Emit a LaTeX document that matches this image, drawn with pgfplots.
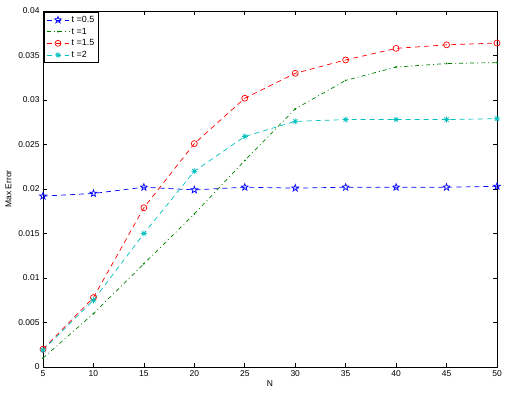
\documentclass[border=0pt]{standalone}
\usepackage{fontspec}
\setmainfont{Liberation Sans}
\usepackage{pgfplots}
\pgfplotsset{compat=1.18}
\usetikzlibrary{plotmarks}
\definecolor{mgreen}{rgb}{0,0.5,0}
\definecolor{mcyan}{rgb}{0,0.75,0.75}
\pgfdeclareplotmark{pentagram}{%
  \pgfpathmoveto{\pgfqpointpolar{90}{\pgfplotmarksize}}%
  \pgfpathlineto{\pgfqpointpolar{126}{0.4\pgfplotmarksize}}%
  \pgfpathlineto{\pgfqpointpolar{162}{\pgfplotmarksize}}%
  \pgfpathlineto{\pgfqpointpolar{198}{0.4\pgfplotmarksize}}%
  \pgfpathlineto{\pgfqpointpolar{234}{\pgfplotmarksize}}%
  \pgfpathlineto{\pgfqpointpolar{270}{0.4\pgfplotmarksize}}%
  \pgfpathlineto{\pgfqpointpolar{306}{\pgfplotmarksize}}%
  \pgfpathlineto{\pgfqpointpolar{342}{0.4\pgfplotmarksize}}%
  \pgfpathlineto{\pgfqpointpolar{18}{\pgfplotmarksize}}%
  \pgfpathlineto{\pgfqpointpolar{54}{0.4\pgfplotmarksize}}%
  \pgfpathclose
  \pgfusepathqstroke}
\pgfdeclareplotmark{mstar}{%
  \pgfpathmoveto{\pgfqpoint{-\pgfplotmarksize}{0pt}}\pgfpathlineto{\pgfqpoint{\pgfplotmarksize}{0pt}}%
  \pgfpathmoveto{\pgfqpoint{0pt}{-\pgfplotmarksize}}\pgfpathlineto{\pgfqpoint{0pt}{\pgfplotmarksize}}%
  \pgfpathmoveto{\pgfqpoint{-0.7\pgfplotmarksize}{-0.7\pgfplotmarksize}}\pgfpathlineto{\pgfqpoint{0.7\pgfplotmarksize}{0.7\pgfplotmarksize}}%
  \pgfpathmoveto{\pgfqpoint{-0.7\pgfplotmarksize}{0.7\pgfplotmarksize}}\pgfpathlineto{\pgfqpoint{0.7\pgfplotmarksize}{-0.7\pgfplotmarksize}}%
  \pgfusepathqstroke}
\begin{document}
\begin{tikzpicture}
\useasboundingbox (-43bp,-35bp) rectangle (463bp,367bp);
\begin{axis}[
  at={(0,0)}, anchor=south west,
  scale only axis,
  width=454bp, height=356bp,
  xmin=5, xmax=50, ymin=0, ymax=0.04,
  xtick={5,10,...,50},
  ytick={0,0.005,0.01,0.015,0.02,0.025,0.03,0.035,0.04},
  yticklabels={0,0.005,0.01,0.015,0.02,0.025,0.03,0.035,0.04},
  scaled y ticks=false,
  tick align=inside,
  tick style={black, line width=0.6pt},
  major tick length=4bp,
  axis line style={black, line width=0.8pt},
  ticklabel style={font=\fontsize{8.5}{10}\selectfont},
  /pgf/number format/assume math mode=true,
  xlabel={N}, ylabel={Max Error},
  label style={font=\fontsize{8.5}{10}\selectfont},
  xlabel style={yshift=3bp},
  ylabel style={yshift=0bp},
  legend style={at={(0.002,0.998)}, anchor=north west, font=\fontsize{9}{10}\selectfont,
    draw=black, line width=0.8pt, inner sep=2pt, row sep=0pt,
    legend cell align=left},
  legend image code/.code={\draw[mark repeat=2,mark phase=2] plot coordinates {(0cm,0cm) (0.4cm,0cm) (0.8cm,0cm)};},
  legend image post style={line width=0.7pt},
  every axis plot/.append style={line width=0.7pt},
]
\addplot[blue, dash pattern=on 5bp off 4bp, mark=pentagram, mark options={solid}, mark size=3.6bp] coordinates {
(5,0.0192)(10,0.0195)(15,0.0202)(20,0.0199)(25,0.0202)(30,0.0201)(35,0.0202)(40,0.0202)(45,0.0202)(50,0.0203)};
\addlegendentry{t =0.5}
\addplot[mgreen, dash pattern=on 4bp off 3bp on 1bp off 3bp, mark=*, mark options={solid}, mark size=0.5bp] coordinates {
(5,0.0010)(10,0.0060)(15,0.0116)(20,0.0172)(25,0.0232)(30,0.0290)(35,0.0322)(40,0.0337)(45,0.0341)(50,0.0342)};
\addlegendentry{t =1}
\addplot[red, dash pattern=on 5bp off 4bp, mark=o, mark options={solid}, mark size=3bp] coordinates {
(5,0.0020)(10,0.0078)(15,0.0179)(20,0.0251)(25,0.0302)(30,0.0330)(35,0.0345)(40,0.0358)(45,0.0362)(50,0.0364)};
\addlegendentry{t =1.5}
\addplot[mcyan, dash pattern=on 5bp off 4bp, mark=mstar, mark options={solid}, mark size=3bp] coordinates {
(5,0.0019)(10,0.0075)(15,0.0150)(20,0.0220)(25,0.0259)(30,0.0276)(35,0.0278)(40,0.0278)(45,0.0278)(50,0.0279)};
\addlegendentry{t =2}
\end{axis}
\end{tikzpicture}
\end{document}
